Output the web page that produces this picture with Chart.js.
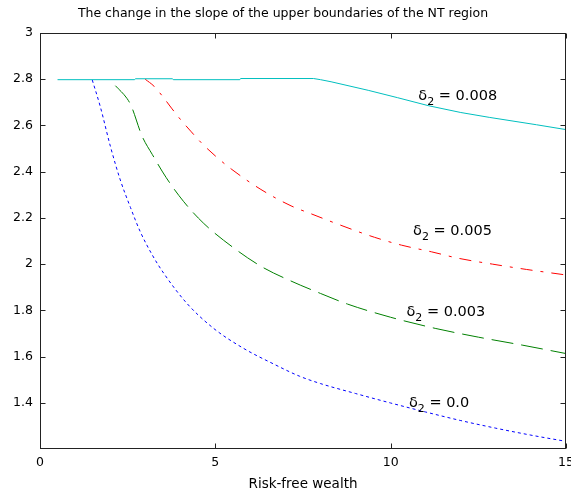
<!DOCTYPE html>
<html>
<head>
<meta charset="utf-8">
<script src="https://cdn.jsdelivr.net/npm/chart.js@4.4.1/dist/chart.umd.min.js"></script>
<style>
  html, body { margin: 0; padding: 0; background: #fff; }
  #wrap { width: 571px; height: 496px; }
</style>
</head>
<body>
<div id="wrap"><canvas id="slopeChart" width="571" height="496"></canvas></div>
<script>
// tick values
const xTicks = [0, 5, 10, 15];
const yTicks = [1.4, 1.6, 1.8, 2, 2.2, 2.4, 2.6, 2.8, 3];

// delta2 = 0.0 (blue, dotted)
const xD0 = [1.49, 1.72, 2.01, 2.29, 2.58, 2.86, 3.2, 3.53, 4.19, 4.95, 5.81, 6.66, 7.4, 8.0, 9.0, 10.0, 11.0, 12.0, 13.0, 14.0, 15];
const yD0 = [2.797, 2.681, 2.508, 2.364, 2.245, 2.14, 2.04, 1.960, 1.830, 1.722, 1.635, 1.568, 1.515, 1.483, 1.440, 1.399, 1.360, 1.323, 1.290, 1.260, 1.233];

// delta2 = 0.003 (green, dashed)
const xD3 = [2.15, 2.48, 2.6, 2.91, 3.2, 3.6, 4.1, 4.67, 5.48, 6.33, 7.14, 8.0, 8.77, 10.0, 11.27, 12.5, 13.77, 15];
const yD3 = [2.772, 2.717, 2.685, 2.554, 2.475, 2.374, 2.27, 2.176, 2.075, 1.988, 1.928, 1.873, 1.827, 1.77, 1.722, 1.684, 1.649, 1.613];

// delta2 = 0.005 (red, dash-dot)
const xD5 = [3.0, 3.25, 3.5, 3.75, 4.0, 4.3, 4.6, 5.0, 5.45, 6.3, 7.16, 7.71, 8.58, 9.54, 10.31, 11.17, 11.94, 12.9, 13.87, 15];
const yD5 = [2.80, 2.77, 2.725, 2.675, 2.627, 2.575, 2.525, 2.468, 2.412, 2.323, 2.252, 2.219, 2.168, 2.116, 2.082, 2.053, 2.025, 2.0, 1.977, 1.953];

// delta2 = 0.008 (cyan, solid)
const xD8 = [0.5, 2.7, 2.72, 3.78, 3.8, 5.7, 5.72, 7.8, 8.0, 8.3, 9.36, 10.2, 11.09, 12.0, 12.81, 14.16, 15];
const yD8 = [2.798, 2.798, 2.802, 2.802, 2.798, 2.798, 2.803, 2.803, 2.798, 2.789, 2.752, 2.72, 2.685, 2.656, 2.635, 2.603, 2.582];

// curve labels (text, anchor in data units: left / baseline)
const labelValues = ["0.008", "0.005", "0.003", "0.0"];
const labelX = [10.79, 10.64, 10.45, 10.52];
const labelY = [2.710, 2.124, 1.774, 1.380];

function toPoints(xs, ys) {
  return xs.map((x, i) => ({ x: x, y: ys[i] }));
}

const fontFamily = "'DejaVu Sans', Arial, sans-serif";

// matlab-like box with inward ticks + delta labels
const boxPlugin = {
  id: "matlabBox",
  afterDatasetsDraw(chart) {
    const ctx = chart.ctx;
    const area = chart.chartArea;
    const xs = chart.scales.x;
    const ys = chart.scales.y;
    const l = Math.round(area.left) + 0.5;
    const r = Math.round(area.right) - 0.5;
    const t = Math.round(area.top) + 0.5;
    const b = Math.round(area.bottom) - 0.5;
    const tick = 5;

    ctx.save();
    ctx.strokeStyle = "#222";
    ctx.lineWidth = 1;
    ctx.setLineDash([]);
    ctx.strokeRect(l, t, r - l, b - t);

    ctx.beginPath();
    xTicks.forEach(v => {
      const px = Math.round(xs.getPixelForValue(v)) + 0.5;
      ctx.moveTo(px, b); ctx.lineTo(px, b - tick);
      ctx.moveTo(px, t); ctx.lineTo(px, t + tick);
    });
    yTicks.forEach(v => {
      const py = Math.round(ys.getPixelForValue(v)) + 0.5;
      ctx.moveTo(l, py); ctx.lineTo(l + tick, py);
      ctx.moveTo(r, py); ctx.lineTo(r - tick, py);
    });
    ctx.stroke();

    // δ2 = ... labels
    ctx.fillStyle = "#000";
    ctx.textBaseline = "alphabetic";
    ctx.textAlign = "left";
    labelValues.forEach((val, i) => {
      let px = xs.getPixelForValue(labelX[i]);
      const py = ys.getPixelForValue(labelY[i]);
      ctx.font = "14.5px " + fontFamily;
      ctx.fillText("\u03b4", px, py);
      px += ctx.measureText("\u03b4").width;
      ctx.font = "11px " + fontFamily;
      ctx.fillText("2", px, py + 5);
      px += ctx.measureText("2").width;
      ctx.font = "14.5px " + fontFamily;
      ctx.fillText(" = " + val, px, py);
    });
    ctx.restore();
  }
};

const ctx = document.getElementById("slopeChart").getContext("2d");

new Chart(ctx, {
  type: "line",
  data: {
    datasets: [
      {
        label: "\u03b42 = 0.008",
        data: toPoints(xD8, yD8),
        borderColor: "#00bfbf",
        borderWidth: 1,
        tension: 0
      },
      {
        label: "\u03b42 = 0.005",
        data: toPoints(xD5, yD5),
        borderColor: "#ff0000",
        borderWidth: 1,
        borderDash: [12, 8, 3, 8],
        cubicInterpolationMode: "monotone"
      },
      {
        label: "\u03b42 = 0.003",
        data: toPoints(xD3, yD3),
        borderColor: "#008000",
        borderWidth: 1,
        borderDash: [22, 8],
        cubicInterpolationMode: "monotone"
      },
      {
        label: "\u03b42 = 0.0",
        data: toPoints(xD0, yD0),
        borderColor: "#0000ff",
        borderWidth: 1,
        borderDash: [3, 3],
        cubicInterpolationMode: "monotone"
      }
    ]
  },
  options: {
    responsive: false,
    animation: false,
    devicePixelRatio: 1,
    layout: {
      padding: { left: 0, right: 5, top: 0, bottom: 0 }
    },
    elements: {
      point: { radius: 0, hoverRadius: 0 },
      line: { fill: false }
    },
    plugins: {
      legend: { display: false },
      tooltip: { enabled: false },
      title: {
        display: true,
        text: "The change in the slope of the upper boundaries of the NT region",
        color: "#000",
        font: { family: fontFamily, size: 12.5, weight: "normal", lineHeight: 1.2 },
        padding: { top: 6, bottom: 12 }
      }
    },
    scales: {
      x: {
        type: "linear",
        min: 0,
        max: 15,
        grid: { display: false, drawTicks: false },
        border: { display: false },
        ticks: {
          color: "#000",
          padding: 6,
          font: { family: fontFamily, size: 12.5 },
          callback: v => String(v)
        },
        afterBuildTicks: scale => {
          scale.ticks = xTicks.map(v => ({ value: v }));
        },
        afterFit: scale => {
          scale.height = 47;
          scale.paddingLeft = 0;
          scale.paddingRight = 0;
        },
        title: {
          display: true,
          text: "Risk-free wealth",
          color: "#000",
          font: { family: fontFamily, size: 13.5 },
          padding: { top: 0, bottom: 3 }
        }
      },
      y: {
        min: 1.2,
        max: 3,
        grid: { display: false, drawTicks: false },
        border: { display: false },
        ticks: {
          color: "#000",
          padding: 7,
          font: { family: fontFamily, size: 12.5 },
          callback: v => String(v)
        },
        afterBuildTicks: scale => {
          scale.ticks = yTicks.map(v => ({ value: v }));
        },
        afterFit: scale => {
          scale.width = 40;
          scale.paddingTop = 0;
          scale.paddingBottom = 0;
        }
      }
    }
  },
  plugins: [boxPlugin]
});
</script>
</body>
</html>
